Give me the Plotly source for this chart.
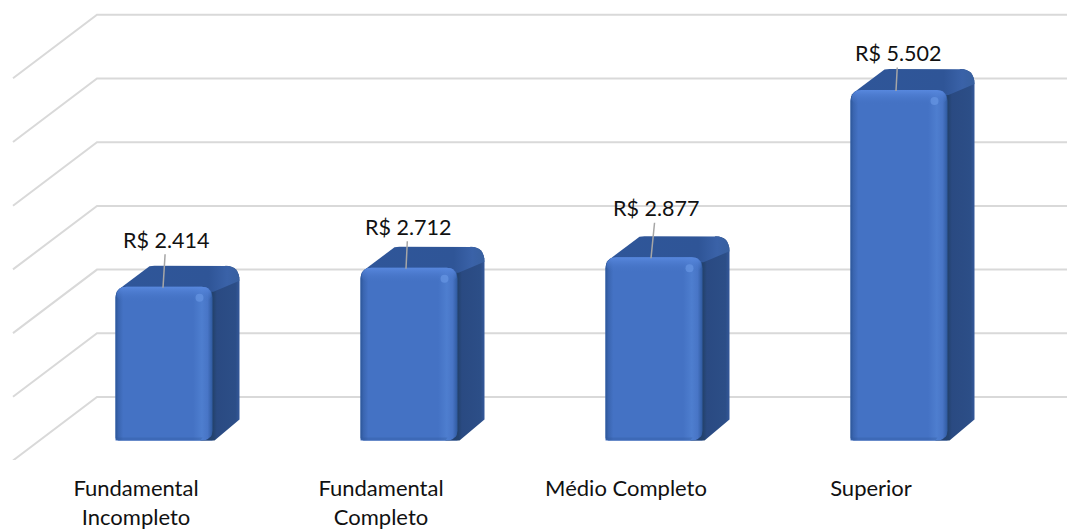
import plotly.graph_objects as go

categories = ["Fundamental<br>Incompleto", "Fundamental<br>Completo", "Médio Completo", "Superior"]
values = [2414, 2712, 2877, 5502]
value_labels = ["R$ 2.414", "R$ 2.712", "R$ 2.877", "R$ 5.502"]
grid_values = [0, 1000, 2000, 3000, 4000, 5000, 6000]

# drawing scale (one pixel expressed in axis units)
PX = 1 / 245.0
PY = 1000 / 63.7
BAR_W = 97 * PX
DX, DY = 27 * PX, 21 * PY   # depth of the 3D bar
FONT = "Lato"
TXT = "#111111"


def corner(cx, cy, sx, sy, rx, ry, first_x):
    """Quarter-round around a box corner (cx, cy); sx/sy point inward."""
    pts = []
    n = 8
    for i in range(n + 1):
        t = i / n
        if first_x:
            p0, p1, p2 = (cx + sx * rx, cy), (cx, cy), (cx, cy + sy * ry)
        else:
            p0, p1, p2 = (cx, cy + sy * ry), (cx, cy), (cx + sx * rx, cy)
        pts.append(((1 - t) ** 2 * p0[0] + 2 * t * (1 - t) * p1[0] + t * t * p2[0],
                    (1 - t) ** 2 * p0[1] + 2 * t * (1 - t) * p1[1] + t * t * p2[1]))
    return pts


def poly(pts, **kw):
    xs = [p[0] for p in pts] + [pts[0][0]]
    ys = [p[1] for p in pts] + [pts[0][1]]
    return go.Scatter(x=xs, y=ys, mode="lines", line=dict(width=0), fill="toself",
                      hoverinfo="skip", showlegend=False, **kw)


def grad(kind, stops):
    return dict(type=kind, colorscale=stops)


fig = go.Figure()

# gridlines: left floor diagonal plus back wall
shapes = []
left_front, left_back, right_end = -151 * PX, -67 * PX, 903 * PX
front_off, back_off = -20 * PY, 43.5 * PY
for g in grid_values:
    shapes.append(dict(type="path", layer="below", xref="x", yref="y",
                       path=f"M{left_front},{g + front_off} L{left_back},{g + back_off} L{right_end},{g + back_off}",
                       line=dict(color="#d9d9d9", width=2)))

xs = list(range(len(values)))
fig.add_trace(go.Bar(x=xs, y=values, width=BAR_W, marker=dict(color="#4472c4", line=dict(width=0), cornerradius=11),
                     hoverinfo="skip", showlegend=False))

for c, v in zip(xs, values):
    x0, x1 = c - BAR_W / 2, c + BAR_W / 2
    # side face
    side = (
        [(x1 - 12 * PX, v)]
        + corner(x1 + DX, v + DY, -1, -1, 14 * PX, 15 * PY, True)
        + [(x1 + DX, DY)]
        + [(x1 + 2 * PX, 0), (x1 - 12 * PX, 0)]
    )
    fig.add_trace(poly(side, fillcolor="#2b4c84",
                       fillgradient=grad("horizontal", [[0, "#223f70"], [0.33, "#24436f"], [0.42, "#2a4a82"], [0.9, "#2c4e87"], [1, "#34589a"]])))
    # top face
    top = (
        [(x0 + 1 * PX, v - 8 * PY), (x0 + 3 * PX, v - 3 * PY), (x0 + 8 * PX, v + 1 * PY)]
        + [(x0 + DX + 4 * PX, v + DY - 2 * PY), (x0 + DX + 7 * PX, v + DY - 0.5 * PY), (x0 + DX + 12 * PX, v + DY)]
        + corner(x1 + DX, v + DY, -1, -1, 14 * PX, 15 * PY, True)
        + [(x1 + 1 * PX, v - 5 * PY)]
    )
    fig.add_trace(poly(top, fillcolor="#2f5597",
                       fillgradient=grad("horizontal", [[0, "#2f5699"], [0.75, "#2f5597"], [0.9, "#3a62a8"], [1, "#38609f"]])))
    # front face
    front = (
        corner(x0, 0, 1, 1, 3 * PX, 3 * PY, True)
        + corner(x0, v, 1, -1, 11 * PX, 11 * PY, False)
        + corner(x1, v, -1, -1, 11 * PX, 11 * PY, True)
        + corner(x1, 0, -1, 1, 12 * PX, 10 * PY, False)
    )
    fig.add_trace(poly(front, fillcolor="#4472c4",
                       fillgradient=grad("horizontal", [[0, "#2c5698"], [0.03, "#3a65b0"], [0.08, "#4472c4"],
                                                        [0.8, "#4472c4"], [0.89, "#4e7ecf"], [0.95, "#4875c6"], [1, "#2f5a9f"]])))
    # top bevel
    bev = (
        corner(x0 + 1 * PX, v, 1, -1, 10 * PX, 10 * PY, False)
        + corner(x1 - 1 * PX, v, -1, -1, 10 * PX, 10 * PY, True)
        + [(x1 - 6 * PX, v - 15 * PY), (x0 + 6 * PX, v - 15 * PY)]
    )
    fig.add_trace(poly(bev, fillcolor="rgba(82,130,214,0.5)",
                       fillgradient=grad("vertical", [[0, "rgba(68,114,196,0)"], [1, "rgba(88,136,222,1)"]])))
    # bottom bevel
    bot = [(x0 + 3 * PX, 0), (x1 - 12 * PX, 0), (x1 - 10 * PX, 3 * PY), (x0 + 1 * PX, 3 * PY)]
    fig.add_trace(poly(bot, fillcolor="rgba(47,85,151,0.3)"))
    # glint
    fig.add_trace(go.Scatter(x=[x1 - 13 * PX], y=[v - 11 * PY], mode="markers",
                             marker=dict(size=8, color="rgba(108,155,232,0.6)", line=dict(width=0)),
                             hoverinfo="skip", showlegend=False))

# data labels with leader lines (x nudge, pixel offset of the text)
label_offsets = [(-1, 3, -48), (-3, 2, -42), (-3, 5, -50), (-3, 2, -38)]
annotations = []
for c, v, t, (nx, ax, ay) in zip(xs, values, value_labels, label_offsets):
    annotations.append(dict(x=c + nx * PX, y=v - 1 * PY, xref="x", yref="y", text=t,
                            showarrow=True, arrowhead=0, arrowwidth=1.5, arrowcolor="#a6a6a6",
                            ax=ax, ay=ay, axref="pixel", ayref="pixel",
                            font=dict(family=FONT, size=21.5, color=TXT)))

fig.update_layout(
    width=1067, height=530, autosize=False,
    margin=dict(l=0, r=0, t=0, b=70, pad=0),
    paper_bgcolor="white", plot_bgcolor="white",
    showlegend=False, shapes=shapes, annotations=annotations,
    xaxis=dict(range=[-164 * PX, 903 * PX], showgrid=False, zeroline=False, showline=False, automargin=False,
               ticks="", tickmode="array", tickvals=[c - 28 * PX for c in xs], ticktext=categories,
               tickfont=dict(family=FONT, size=22, color=TXT), ticklabelstandoff=13, tickangle=0),
    yaxis=dict(range=[-19.5 * PY, 440.5 * PY], showgrid=False, zeroline=False, showline=False, automargin=False,
               showticklabels=False, ticks=""),
)

fig.write_html("out.html", config={"displayModeBar": False},
               post_script="document.body.style.margin='0';document.documentElement.style.overflow='hidden';")
